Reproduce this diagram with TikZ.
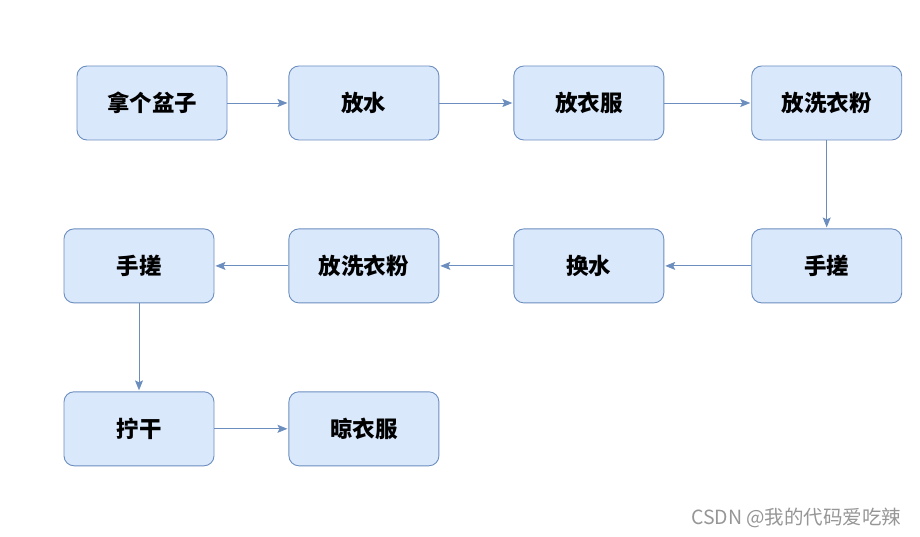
\documentclass[tikz,border=0pt]{standalone}
\usepackage{fontspec}
\setmainfont{Noto Sans CJK SC}
\usepackage{tikz}
\usetikzlibrary{positioning, arrows.meta}
\definecolor{boxFill}{HTML}{DAE8FC}
\definecolor{boxLine}{HTML}{6C8EBF}
\definecolor{markGrey}{RGB}{150,150,150}

\begin{document}
\begin{tikzpicture}[
  x=1pt, y=1pt,
  font=\fontsize{22.5}{26}\selectfont\bfseries,
  stepbox/.style={draw=boxLine, fill=boxFill, rounded corners=10pt, line width=0.9pt,
    minimum width=150pt, minimum height=74pt, inner sep=2pt, align=center},
  stepedge/.style={-{Stealth[length=10pt, width=8pt, inset=2pt]}, draw=boxLine, line width=0.9pt, shorten >=1pt},
  marktext/.style={font=\fontsize{19.5}{22}\selectfont, text=markGrey, anchor=east}
]
\useasboundingbox (0,0) rectangle (920,-537);

% Row 1: left to right
\node[stepbox] (basin) at (152,-103) {拿个盆子};
\node[stepbox, right=61pt of basin] (water) {放水};
\node[stepbox, right=74pt of water] (clothes) {放衣服};
\node[stepbox, right=87pt of clothes] (powder) {放洗衣粉};

% Row 2: right to left
\node[stepbox, below=88pt of powder] (rub) {手搓};
\node[stepbox, left=87pt of rub] (rewater) {换水};
\node[stepbox, left=74pt of rewater] (repowder) {放洗衣粉};
\node[stepbox, left=74pt of repowder] (rerub) {手搓};

% Row 3
\node[stepbox, below=88pt of rerub] (wring) {拧干};
\node[stepbox, right=74pt of wring] (hang) {晾衣服};

% Watermark
\node[marktext] (mark) at (905,-518) {CSDN @我的代码爱吃辣};

% Edges
\draw[stepedge] (basin) -- (water);
\draw[stepedge] (water) -- (clothes);
\draw[stepedge] (clothes) -- (powder);
\draw[stepedge] (powder) -- (rub);
\draw[stepedge] (rub) -- (rewater);
\draw[stepedge] (rewater) -- (repowder);
\draw[stepedge] (repowder) -- (rerub);
\draw[stepedge] (rerub) -- (wring);
\draw[stepedge] (wring) -- (hang);
\end{tikzpicture}
\end{document}
